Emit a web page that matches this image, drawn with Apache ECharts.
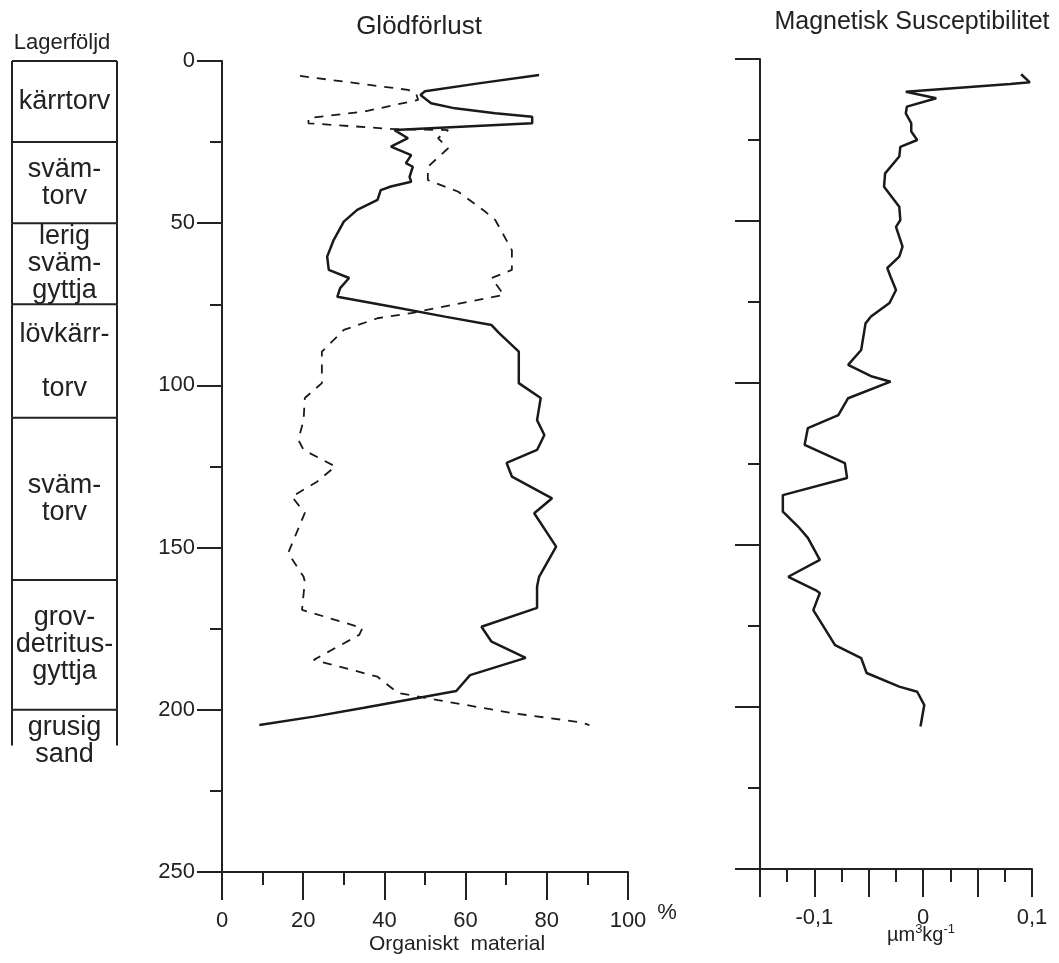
<!DOCTYPE html>
<html>
<head>
<meta charset="utf-8">
<title>Glödförlust och magnetisk susceptibilitet</title>
<script src="https://cdn.jsdelivr.net/npm/echarts@6/dist/echarts.min.js"></script>
<style>
  html, body { margin: 0; padding: 0; background: #fff; }
  #chart { width: 1059px; height: 963px; }
</style>
</head>
<body>
<div id="chart"></div>
<script>
// lagerföljd, djup (cm)
var layerNames = ['kärrtorv', 'sväm-\ntorv', 'lerig\nsväm-\ngyttja', 'lövkärr-\n\ntorv', 'sväm-\ntorv', 'grov-\ndetritus-\ngyttja', 'grusig\nsand'];
var layerTop = [0, 25, 50, 75, 110, 160, 200];
var layerBottom = [25, 50, 75, 110, 160, 200, 211];

// glödförlust, heldragen linje (organiskt material %)
var organicDepth = [4.3, 6.9, 9.3, 10.5, 13, 14.6, 16.1, 17.2, 19.2, 21.3, 23.8, 26.4, 29, 31.5, 32.6, 35.7, 37.2, 38.7, 39.8, 42.8, 45.9, 49.5, 55.2, 60.3, 64.4, 66.9, 70, 72.7, 75.7, 78.8, 81.4, 83.8, 89.6, 99.3, 103.9, 110.7, 115.3, 119.9, 123.9, 128.1, 134.8, 139.4, 149.7, 159, 162, 168.6, 174.4, 179, 184, 189.3, 194.2, 199.4, 202.1, 204.7];
var organicPct = [78.1, 63.2, 50, 48.9, 51.5, 57.4, 67.3, 76.4, 76.4, 42.5, 45.8, 41.6, 46.6, 45.3, 47, 46.2, 46.6, 41.6, 39.1, 38.3, 33.3, 30, 27.5, 25.9, 26.3, 31.3, 29.1, 28.4, 41.6, 54.9, 66.4, 68.2, 73.1, 73.1, 78.5, 77.6, 79.4, 77.6, 70.1, 71.4, 81.3, 76.9, 82.3, 78.1, 77.6, 77.6, 63.9, 66.4, 74.8, 61.1, 57.7, 35, 22.6, 9.2];

// glödförlust, streckad linje
var dashedDepth = [4.6, 8.9, 9.9, 12, 15.6, 17.6, 19.2, 21, 21.3, 23.8, 26.9, 32.6, 36.7, 40.3, 46.4, 49, 58.3, 64.4, 66.9, 72.1, 77.7, 79.3, 82.9, 89.6, 99.3, 103.9, 110.7, 116.8, 119.9, 125, 129.7, 134.3, 139.3, 151.7, 159, 160.5, 169.2, 174.8, 176.9, 184.6, 189.8, 194.8, 197, 201, 203.8, 204.7];
var dashedPct = [19.2, 45.8, 47.8, 48.3, 35, 21.3, 21.3, 42.5, 55.7, 53.2, 55.7, 50.7, 50.7, 58.2, 64.8, 67.3, 71.4, 71.4, 66.4, 69.4, 46.6, 38.3, 30, 24.6, 24.6, 20.4, 20.1, 18.8, 20.1, 27.9, 23.4, 17.2, 20.4, 16.3, 20.1, 20.4, 19.7, 34.6, 33.8, 22.6, 38.3, 43.3, 53.2, 71.4, 88.1, 90.5];

// magnetisk susceptibilitet (µm3/kg)
var magDepth = [4.7, 7.2, 7.7, 10.1, 12.1, 14.7, 16.8, 19.8, 22.4, 25, 27.1, 30.1, 35.3, 39.4, 42.5, 45.6, 49.7, 51.8, 57.9, 61, 64.5, 67.2, 71.3, 75.3, 79.5, 81.6, 89.8, 94.4, 98, 99.6, 104.7, 109.9, 113.9, 119.1, 124.7, 129.3, 134.6, 139.7, 144.3, 147.8, 154.6, 159.8, 163.9, 164.8, 170.1, 180.9, 184.9, 189.5, 193.7, 195.3, 199.4, 206];
var magValue = [0.090, 0.098, 0.080, -0.016, 0.012, -0.015, -0.016, -0.011, -0.011, -0.0055, -0.021, -0.022, -0.035, -0.036, -0.029, -0.022, -0.021, -0.025, -0.019, -0.022, -0.033, -0.030, -0.025, -0.031, -0.048, -0.053, -0.057, -0.069, -0.047, -0.030, -0.069, -0.078, -0.106, -0.109, -0.072, -0.070, -0.129, -0.129, -0.115, -0.106, -0.095, -0.124, -0.099, -0.095, -0.101, -0.081, -0.057, -0.052, -0.022, -0.0055, 0.001, -0.0025];

// tick labels on the susceptibility axis
var magLabelValues = [-0.1, 0, 0.1];
var magLabelTexts = ['-0,1', '0', '0,1'];

var ink = '#222';
var font = 'Liberation Sans';

function zip(xs, ys) {
  return xs.map(function (x, i) { return [x, ys[i]]; });
}

// ett lager i lagerföljden: ram + text
function renderLayer(params, api) {
  var p0 = api.coord([0, api.value(1)]);
  var p1 = api.coord([1, api.value(2)]);
  var name = layerNames[params.dataIndex];
  var lineH = 27;
  var textH = name.split('\n').length * lineH;
  var boxH = p1[1] - p0[1];
  var tooSmall = textH > boxH + 2;
  var ls = { stroke: ink, lineWidth: 2 };
  return {
    type: 'group',
    children: [
      { type: 'line', shape: { x1: p0[0], y1: p0[1], x2: p1[0], y2: p0[1] }, style: ls },
      { type: 'line', shape: { x1: p0[0], y1: p0[1], x2: p0[0], y2: p1[1] }, style: ls },
      { type: 'line', shape: { x1: p1[0], y1: p0[1], x2: p1[0], y2: p1[1] }, style: ls },
      {
        type: 'text',
        x: (p0[0] + p1[0]) / 2,
        y: tooSmall ? p0[1] + 4 : (p0[1] + p1[1]) / 2,
        style: {
          text: name, fill: ink, fontSize: 27, fontFamily: font,
          align: 'center', verticalAlign: tooSmall ? 'top' : 'middle', lineHeight: lineH
        }
      }
    ]
  };
}

var axisLine = { show: true, onZero: false, lineStyle: { color: ink, width: 2 } };
var labelStyle = { color: ink, fontSize: 22, fontFamily: font };

var option = {
  backgroundColor: '#fff',
  animation: false,
  title: [
    { text: 'Lagerföljd', left: 62, top: 32, padding: 0, textAlign: 'center',
      textStyle: { fontSize: 22, fontWeight: 'normal', color: ink, fontFamily: font } },
    { text: 'Glödförlust', left: 419, top: 14, padding: 0, textAlign: 'center',
      textStyle: { fontSize: 26, fontWeight: 'normal', color: ink, fontFamily: font } },
    { text: 'Magnetisk Susceptibilitet', left: 912, top: 10, padding: 0, textAlign: 'center',
      textStyle: { fontSize: 25, fontWeight: 'normal', color: ink, fontFamily: font } },
    { text: '%', left: 667, top: 902, padding: 0, textAlign: 'center',
      textStyle: { fontSize: 22, fontWeight: 'normal', color: ink, fontFamily: font } },
    { text: 'Organiskt  material', left: 457, top: 934, padding: 0, textAlign: 'center',
      textStyle: { fontSize: 21, fontWeight: 'normal', color: ink, fontFamily: font } },
    { text: '{a|µm}{s|3}{a|kg}{s|-1}', left: 921, top: 921, padding: 0, textAlign: 'center',
      textStyle: { fontWeight: 'normal', color: ink, fontFamily: font,
        rich: {
          a: { fontSize: 20, color: ink, fontFamily: font, verticalAlign: 'bottom', lineHeight: 24 },
          s: { fontSize: 13, color: ink, fontFamily: font, verticalAlign: 'bottom', lineHeight: 14, padding: [0, 0, 9, 0] }
        } } }
  ],
  grid: [
    { left: 12, top: 61, width: 105, height: 811 },
    { left: 222, top: 61, width: 406, height: 811 },
    { left: 760, top: 59, width: 272, height: 810 }
  ],
  xAxis: [
    { gridIndex: 0, type: 'value', min: 0, max: 1, show: false },
    {
      gridIndex: 1, type: 'value', min: 0, max: 100, interval: 20,
      axisLine: axisLine,
      axisTick: { show: true, length: 28, lineStyle: { color: ink, width: 2 } },
      minorTick: { show: true, splitNumber: 2, length: 13, lineStyle: { color: ink, width: 2 } },
      splitLine: { show: false },
      axisLabel: Object.assign({ margin: 38 }, labelStyle)
    },
    {
      gridIndex: 2, type: 'value', min: -0.15, max: 0.1, interval: 0.05,
      axisLine: axisLine,
      axisTick: { show: true, length: 28, lineStyle: { color: ink, width: 2 } },
      minorTick: { show: true, splitNumber: 2, length: 13, lineStyle: { color: ink, width: 2 } },
      splitLine: { show: false },
      axisLabel: Object.assign({
        margin: 38,
        showMinLabel: true,
        showMaxLabel: true,
        formatter: function (v) {
          for (var i = 0; i < magLabelValues.length; i++) {
            if (Math.abs(v - magLabelValues[i]) < 1e-6) return magLabelTexts[i];
          }
          return '';
        }
      }, labelStyle)
    }
  ],
  yAxis: [
    { gridIndex: 0, type: 'value', min: 0, max: 250, inverse: true, show: false },
    {
      gridIndex: 1, type: 'value', min: 0, max: 250, interval: 50, inverse: true,
      axisLine: axisLine,
      axisTick: { show: true, length: 25, lineStyle: { color: ink, width: 2 } },
      minorTick: { show: true, splitNumber: 2, length: 12, lineStyle: { color: ink, width: 2 } },
      splitLine: { show: false },
      axisLabel: Object.assign({ margin: 27 }, labelStyle)
    },
    {
      gridIndex: 2, type: 'value', min: 0, max: 250, interval: 50, inverse: true,
      axisLine: axisLine,
      axisTick: { show: true, length: 25, lineStyle: { color: ink, width: 2 } },
      minorTick: { show: true, splitNumber: 2, length: 12, lineStyle: { color: ink, width: 2 } },
      splitLine: { show: false },
      axisLabel: { show: false }
    }
  ],
  series: [
    {
      name: 'Lagerföljd',
      type: 'custom',
      xAxisIndex: 0, yAxisIndex: 0,
      renderItem: renderLayer,
      encode: { x: 0, y: [1, 2] },
      clip: false,
      data: layerTop.map(function (t, i) { return [0, t, layerBottom[i]]; })
    },
    {
      name: 'Organiskt material',
      type: 'line',
      xAxisIndex: 1, yAxisIndex: 1,
      showSymbol: false,
      lineStyle: { color: '#1a1a1a', width: 2.5 },
      data: zip(organicPct, organicDepth)
    },
    {
      name: 'Streckad',
      type: 'line',
      xAxisIndex: 1, yAxisIndex: 1,
      showSymbol: false,
      lineStyle: { color: '#1a1a1a', width: 1.8, type: [9, 8] },
      data: zip(dashedPct, dashedDepth)
    },
    {
      name: 'Magnetisk susceptibilitet',
      type: 'line',
      xAxisIndex: 2, yAxisIndex: 2,
      showSymbol: false,
      lineStyle: { color: '#1a1a1a', width: 2.5 },
      data: zip(magValue, magDepth)
    }
  ]
};

var myChart = echarts.init(document.getElementById('chart'));
myChart.setOption(option);
window.onresize = myChart.resize;
</script>
</body>
</html>
